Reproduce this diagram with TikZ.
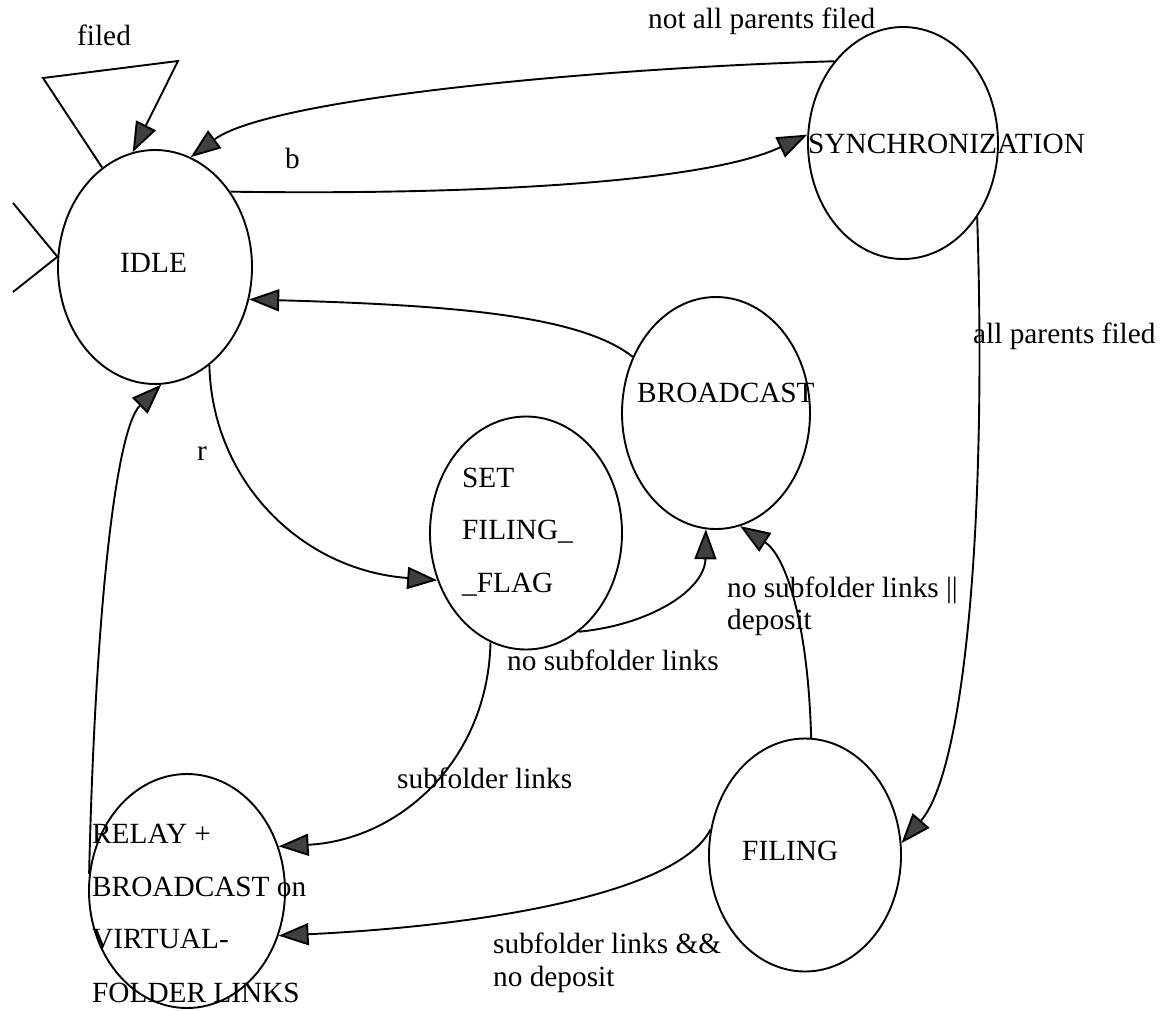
\documentclass[tikz,border=0pt]{standalone}
\usepackage{fontspec}
\setmainfont{Liberation Serif}
\usetikzlibrary{shapes.geometric,arrows.meta}

\tikzset{
  state/.style={draw, ellipse, line width=1.9pt, inner sep=0pt},
  txt/.style={inner sep=0pt, anchor=base west, font=\fontsize{29.3}{32}\selectfont},
  conn/.style={line width=1.9pt},
  arr/.style={conn, -{Triangle[length=30pt, width=22pt, fill=black!75]}}
}

\begin{document}
\begin{tikzpicture}[x=1pt, y=-1pt]
  \useasboundingbox (0,0) rectangle (1167,1010);

  % states
  \node[state, minimum width=194pt, minimum height=234pt] (idle)   at (155,267) {};
  \node[state, minimum width=190pt, minimum height=232pt] (sync)   at (903,143) {};
  \node[state, minimum width=188pt, minimum height=232pt] (bcast)  at (716,413) {};
  \node[state, minimum width=192pt, minimum height=233pt] (setf)   at (526,533) {};
  \node[state, minimum width=196pt, minimum height=234pt] (relay)  at (187,891) {};
  \node[state, minimum width=192pt, minimum height=233pt] (filing) at (805,855) {};

  % state names
  \node[txt] (idletxt)  at (120,272) {IDLE};
  \node[txt] (synctxt)  at (808,153) {SYNCHRONIZATION};
  \node[txt] (bcasttxt) at (637,402) {BROADCAST};
  \node[txt] (settxtA)  at (462,487) {SET};
  \node[txt] (settxtB)  at (462,539) {FILING\_};
  \node[txt] (settxtC)  at (462,592) {\_FLAG};
  \node[txt] (reltxtA)  at (92,843)  {RELAY +};
  \node[txt] (reltxtB)  at (92,896)  {BROADCAST on};
  \node[txt] (reltxtC)  at (92,948)  {VIRTUAL-};
  \node[txt] (reltxtD)  at (92,1002) {FOLDER LINKS};
  \node[txt] (filtxt)   at (742,860) {FILING};

  % transition labels
  \node[txt] (lfiled)  at (77,45)   {filed};
  \node[txt] (lnotall) at (648,28)  {not all parents filed};
  \node[txt] (lb)      at (285,168) {b};
  \node[txt] (lr)      at (197,460) {r};
  \node[txt] (lall)    at (973,343) {all parents filed};
  \node[txt] (lnosub)  at (507,670) {no subfolder links};
  \node[txt] (lsub)    at (397,788) {subfolder links};
  \node[txt] (lnodepA) at (727,597) {no subfolder links ||};
  \node[txt] (lnodepB) at (727,629) {deposit};
  \node[txt] (lsubdA)  at (493,953) {subfolder links \&\&};
  \node[txt] (lsubdB)  at (493,986) {no deposit};

  % initial-state marker
  \coordinate (initA) at (13,203);
  \coordinate (initB) at (13,292);
  \draw[conn] (initA) -- (idle.174) -- (initB);

  % self loop on IDLE
  \coordinate (loopA) at (43,78);
  \coordinate (loopB) at (178,61);
  \draw[arr] (idle.118) -- (loopA) -- (loopB) -- (idle.101);

  % transitions
  \draw[arr] (sync.130) .. controls (600,68) and (270,98) .. (idle.72);
  \draw[arr] (idle.45) .. controls (450,195) and (700,185) .. (sync.175);
  \draw[arr] (bcast.146) .. controls (580,315) and (450,305) .. (idle.-19);
  \draw[arr] (idle.-61) .. controls (212,480) and (300,570) .. (setf.208);
  \draw[arr] (relay.170) .. controls (95,620) and (115,430) .. (idle.-87);
  \draw[arr] (setf.-108) .. controls (488,760) and (400,840) .. (relay.26);
  \draw[arr] (setf.-62) .. controls (650,625) and (705,590) .. (bcast.-95);
  \draw[arr] (filing.87) .. controls (808,620) and (785,555) .. (bcast.-78);
  \draw[arr] (sync.-45) .. controls (987,520) and (965,770) .. (filing.7);
  \draw[arr] (filing.165) .. controls (680,890) and (500,925) .. (relay.-26);
\end{tikzpicture}
\end{document}
